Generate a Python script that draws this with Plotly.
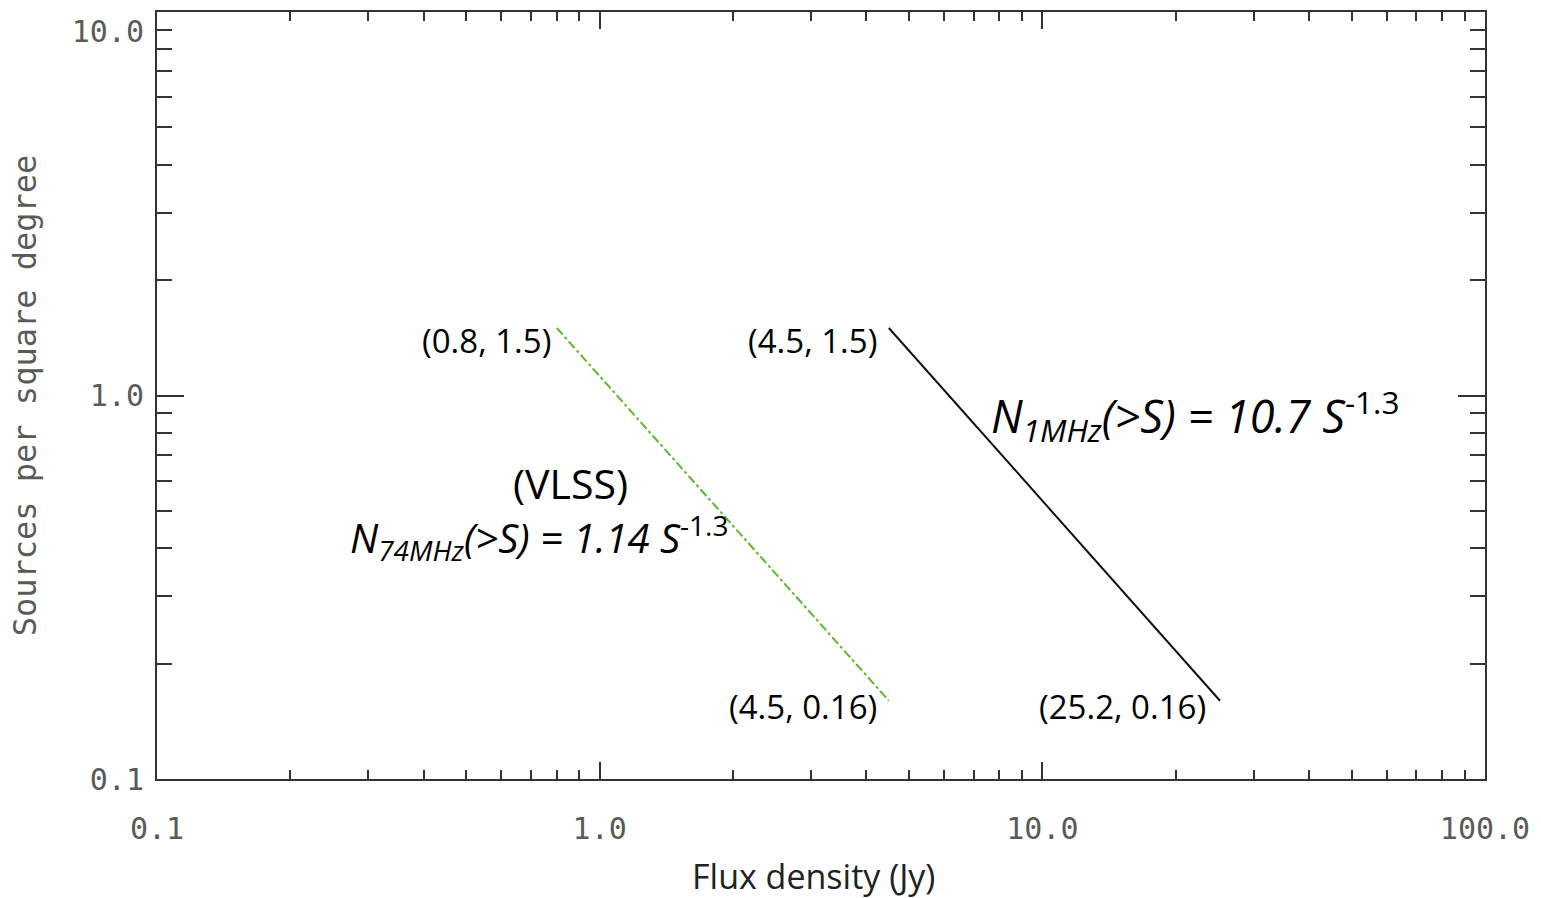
import numpy as np
import plotly.graph_objects as go

# Data: power-law source count lines (endpoints)
vlss_flux = [0.8, 4.5]
vlss_counts = [1.5, 0.16]
mhz1_flux = [4.5, 25.2]
mhz1_counts = [1.5, 0.16]

x_tickvals = [0.1, 1.0, 10.0, 100.0]
x_ticktext = ["0.1", "1.0", "10.0", "100.0"]
y_tickvals = [0.1, 1.0, 10.0]
y_ticktext = ["0.1", "1.0", "<br>10.0"]

AX = "#333333"
TICKFONT = dict(family="DejaVu Sans Mono", size=30, color="#5a5a5a")
ANN = "Open Sans"

fig = go.Figure()
fig.add_trace(go.Scatter(x=vlss_flux, y=vlss_counts, mode="lines",
                         line=dict(color="#5cb82e", width=2, dash="dashdot"),
                         showlegend=False, hoverinfo="skip"))
fig.add_trace(go.Scatter(x=mhz1_flux, y=mhz1_counts, mode="lines",
                         line=dict(color="#111111", width=2),
                         showlegend=False, hoverinfo="skip"))

def L(v):
    return float(np.log10(v))

annotations = [
    dict(x=L(vlss_flux[0]), y=L(vlss_counts[0]), text="(0.8, 1.5)", xanchor="right",
         yanchor="middle", xshift=-4, yshift=-13, font=dict(family=ANN, size=33, color="black")),
    dict(x=L(mhz1_flux[0]), y=L(mhz1_counts[0]), text="(4.5, 1.5)", xanchor="right",
         yanchor="middle", xshift=-10, yshift=-13, font=dict(family=ANN, size=33, color="black")),
    dict(x=L(vlss_flux[1]), y=L(vlss_counts[1]), text="(4.5, 0.16)", xanchor="right",
         yanchor="middle", xshift=-10, yshift=-6, font=dict(family=ANN, size=33, color="black")),
    dict(x=L(mhz1_flux[1]), y=L(mhz1_counts[1]), text="(25.2, 0.16)", xanchor="right",
         yanchor="middle", xshift=-12, yshift=-6, font=dict(family=ANN, size=33, color="black")),
    dict(x=-0.067, y=-0.227, text="(VLSS)", xanchor="center", yanchor="middle",
         font=dict(family=ANN, size=41, color="black")),
    dict(x=-0.137, y=-0.371,
         text="<i>N<sub>74MHz</sub>(&gt;S) = 1.14 S</i><sup>-1.3</sup>",
         xanchor="center", yanchor="middle", font=dict(family=ANN, size=40, color="black")),
    dict(x=1.345, y=-0.052,
         text="<i>N<sub>1MHz</sub>(&gt;S) = 10.7 S</i><sup>-1.3</sup>",
         xanchor="center", yanchor="middle", font=dict(family=ANN, size=45, color="black")),
]
for a in annotations:
    a.update(xref="x", yref="y", showarrow=False)

# x-axis title placed below the tick labels
annotations.append(dict(x=0.5, y=0, xref="paper", yref="paper", xanchor="center", yanchor="middle",
                        xshift=-8, yshift=-97, showarrow=False, text="Flux density (Jy)",
                        font=dict(family=ANN, size=34, color="#222222")))

fig.update_layout(
    width=1541, height=898,
    margin=dict(l=157, r=56, t=12, b=119),
    paper_bgcolor="white", plot_bgcolor="white",
    annotations=annotations,
    xaxis=dict(
        type="log", range=[-1, 2], showgrid=False, zeroline=False, automargin=False,
        showline=True, linecolor=AX, linewidth=2, mirror="allticks",
        ticks="inside", ticklen=17, tickwidth=2, tickcolor=AX,
        tickvals=x_tickvals, ticktext=x_ticktext, tickfont=TICKFONT,
        ticklabelstandoff=22, ticklabeloverflow="allow",
        minor=dict(ticks="inside", ticklen=9, tickwidth=2, tickcolor=AX, dtick="D1", showgrid=False),
    ),
    yaxis=dict(
        type="log", range=[-1, 1], showgrid=False, zeroline=False, automargin=False,
        showline=True, linecolor=AX, linewidth=2, mirror="allticks",
        ticks="inside", ticklen=27, tickwidth=2, tickcolor=AX,
        tickvals=y_tickvals, ticktext=y_ticktext, tickfont=TICKFONT,
        ticklabelstandoff=5, ticklabeloverflow="allow",
        minor=dict(ticks="inside", ticklen=15, tickwidth=2, tickcolor=AX, dtick="D1", showgrid=False),
        title=dict(text="Sources per square degree", font=dict(family="DejaVu Sans Mono", size=32, color="#5a5a5a"), standoff=26),
    ),
)

fig.write_html("out.html", config={"displayModeBar": False},
               post_script="document.body.style.margin='0';document.body.style.overflow='hidden';")
